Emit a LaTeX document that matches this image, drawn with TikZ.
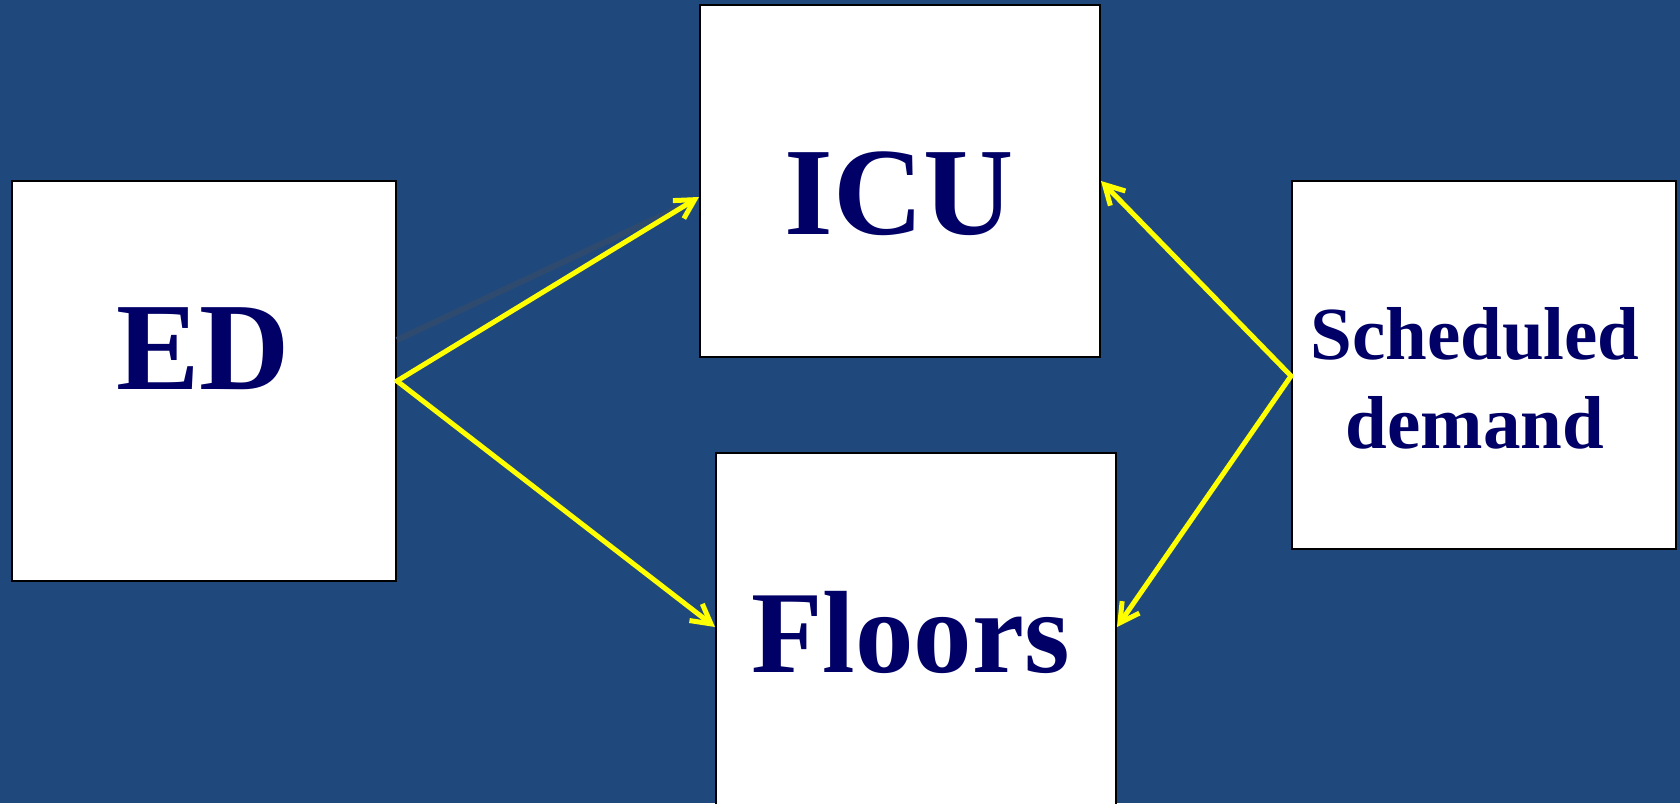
\documentclass[tikz,border=0pt]{standalone}
\usepackage{fontspec}
\setmainfont{Liberation Serif}
\usetikzlibrary{arrows.meta}
\usepackage{xcolor}
\definecolor{slideblue}{HTML}{1F497D}
\definecolor{navytext}{HTML}{000066}
\definecolor{ghostline}{HTML}{2E4A6F}
\definecolor{arrowyellow}{HTML}{FFFF00}

\begin{document}
\begin{tikzpicture}[x=1pt, y=-1pt,
      unitbox/.style={draw=black, fill=white, line width=2pt, inner sep=0pt},
      unitlbl/.style={anchor=base, inner sep=0pt, align=center, text=navytext},
      arr/.style={-{Straight Barb[length=19pt, width=21pt]}, line width=5pt,
                  line cap=round, color=arrowyellow}
    ]
    % Slide background
    \path[fill=slideblue, use as bounding box] (0,0) rectangle (1680,803);

    % Unit boxes
    \node[unitbox, minimum width=384pt, minimum height=400pt] (ed)     at (204,381)   {};
    \node[unitbox, minimum width=400pt, minimum height=352pt] (icu)    at (900,181)   {};
    \node[unitbox, minimum width=400pt, minimum height=377pt] (floors) at (916,641.5) {};
    \node[unitbox, minimum width=384pt, minimum height=368pt] (sched)  at (1484,365)  {};

    % Labels
    \node[unitlbl, font=\fontsize{125}{150}\selectfont\bfseries] (edtxt)     at (203,389)   {ED};
    \node[unitlbl, font=\fontsize{125}{150}\selectfont\bfseries] (icutxt)    at (899.5,234) {ICU};
    \node[unitlbl, font=\fontsize{117}{140}\selectfont\bfseries] (floorstxt) at (910.5,672) {Floors};
    \node[unitlbl, font=\fontsize{75}{89}\selectfont\bfseries]   (schedtxt)  at (1475,448)  {Scheduled\\demand};

    % Arrow ends
    \coordinate (icuin)     at ([yshift=-16pt]icu.west);
    \coordinate (floorsin)  at ([yshift=14.5pt]floors.west);
    \coordinate (floorsin2) at ([yshift=14.5pt]floors.east);
    \coordinate (schedout)  at ([yshift=-11pt]sched.west);
    \coordinate (ghoststart) at ([yshift=41pt]ed.east);
    \coordinate (ghostend)   at (680,207);

    \draw[ghostline, line width=6pt] (ghoststart) -- (ghostend);

    \draw[arr] (ed.east) -- (icuin);
    \draw[arr] (ed.east) -- (floorsin);
    \draw[arr] (schedout) -- (icu.east);
    \draw[arr] (schedout) -- (floorsin2);

  \end{tikzpicture}
\end{document}
